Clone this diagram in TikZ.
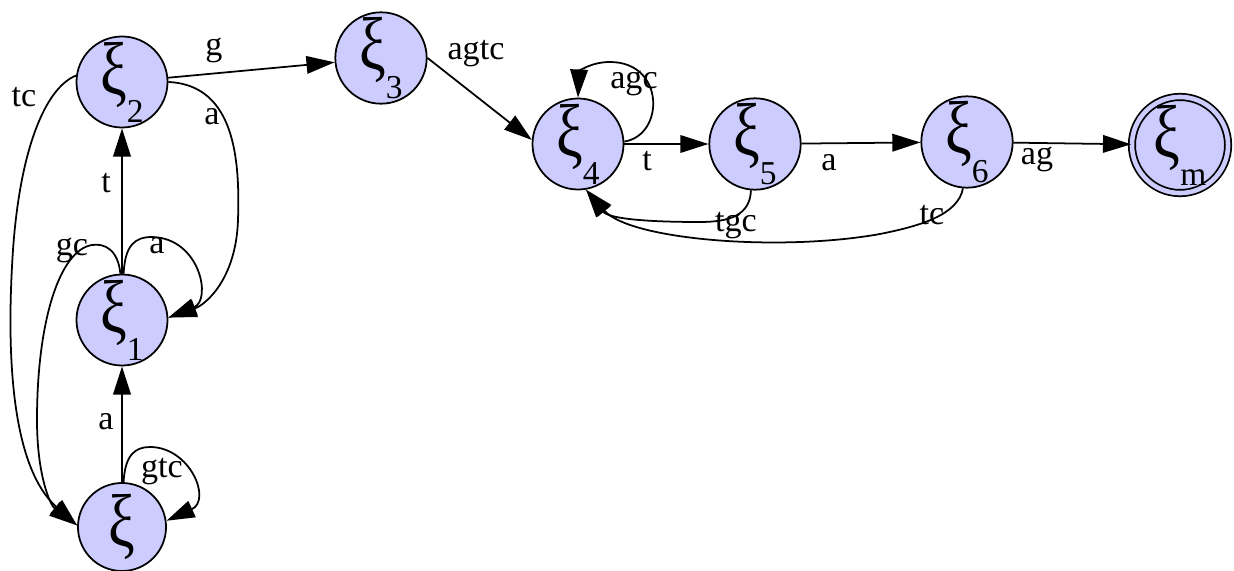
\documentclass[tikz,border=0pt]{standalone}
\usepackage{fontspec}
\setmainfont{Liberation Serif}
\usetikzlibrary{arrows.meta}
\definecolor{nodefill}{RGB}{204,204,255}
\newcommand\bigxi{\scalebox{1}[1.25]{\fontsize{17pt}{17pt}\selectfont ξ}}
\newcommand\xil[1]{\bigxi\raisebox{-8pt}{\fontsize{9.5pt}{9.5pt}\selectfont #1}}
\begin{document}
\begin{tikzpicture}[x=0.01cm,y=-0.01cm,
  state/.style={circle,draw,line width=0.5pt,fill=nodefill,minimum size=0.88cm,inner sep=0pt},
  accept/.style={state,minimum size=0.93cm,double=nodefill,double distance=1.3pt},
  arr/.style={line width=0.5pt,-{Triangle[length=8pt,width=5pt]}},
  lbl/.style={font=\fontsize{9.7pt}{9.7pt}\selectfont,inner sep=0pt}]
\useasboundingbox[fill=white] (0,0) rectangle (1234,570);
% states
\node[state] (n2) at (122,82) {\xil{2}};
\node[state] (n3) at (381,58) {\xil{3}};
\node[state] (n4) at (578,144) {\xil{4}};
\node[state] (n5) at (755,144) {\xil{5}};
\node[state] (n6) at (967,142) {\xil{6}};
\node[accept] (nm) at (1180,145) {\xil{m}};
\node[state] (n1) at (122,320) {\xil{1}};
\node[state] (n0) at (122,527) {\raisebox{-6pt}{\bigxi}};
% edges
\draw[arr] (n2) -- (n3);
\draw[arr] (n3.east) -- (n4.175);
\draw[arr] (n4.3) .. controls (665,135) and (665,62) .. (610,62) .. controls (590,62) and (579,72) .. (n4.90);
\draw[arr] (n4) -- (n5);
\draw[arr] (n5) -- (n6);
\draw[arr] (n6) -- (nm);
\draw[arr] (n5.-95) .. controls (750,215) and (730,222) .. (700,222) .. controls (640,222) and (608,218) .. (n4.-80);
\draw[arr] (n6.-95) .. controls (958,215) and (920,226) .. (880,234) .. controls (780,252) and (630,240) .. (n4.-80);
\draw[arr] (n1) -- (n2);
\draw[arr] (n2.0) .. controls (235,85) and (240,160) .. (238,220) .. controls (236,280) and (205,305) .. (n1.3);
\draw[arr] (n1.88) .. controls (125,245) and (135,237) .. (152,237) .. controls (200,238) and (212,300) .. (n1.3);
\draw[arr] (n1.92) .. controls (118,250) and (105,243) .. (92,245) .. controls (60,250) and (37,320) .. (37,420) .. controls (37,475) and (50,505) .. (n0.178);
\draw[arr] (n2.172) .. controls (45,88) and (20,150) .. (13,250) .. controls (5,370) and (15,470) .. (n0.178);
\draw[arr] (n0) -- (n1);
\draw[arr] (n0.88) .. controls (125,455) and (135,447) .. (150,447) .. controls (190,447) and (212,500) .. (n0.8);
% labels
\node[lbl] (lg) at (214,50) {g};
\node[lbl] (lagtc) at (476,54) {agtc};
\node[lbl] (lagc) at (634,83) {agc};
\node[lbl] (lt45) at (647,161) {t};
\node[lbl] (la56) at (829,163) {a};
\node[lbl] (ltgc) at (736,226) {tgc};
\node[lbl] (ltc64) at (932,215) {tc};
\node[lbl] (lag) at (1037,159) {ag};
\node[lbl] (lt12) at (106,183) {t};
\node[lbl] (la21) at (212,117) {a};
\node[lbl] (la11) at (157,246) {a};
\node[lbl] (lgc) at (72,250) {gc};
\node[lbl] (ltc20) at (24,97) {tc};
\node[lbl] (la01) at (106,422) {a};
\node[lbl] (lgtc) at (162,472) {gtc};
\end{tikzpicture}
\end{document}
